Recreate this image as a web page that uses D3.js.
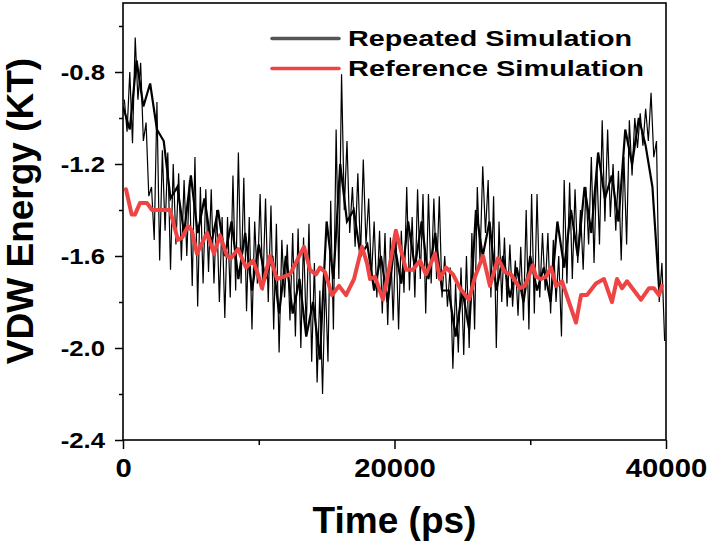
<!DOCTYPE html>
<html><head><meta charset="utf-8">
<script src="https://cdn.jsdelivr.net/npm/d3@7"></script>
<style>body{margin:0;background:#fff} text{font-family:"Liberation Sans",Arial,sans-serif;font-weight:bold;fill:#000}</style>
</head><body>
<svg id="chart" width="708" height="543"></svg>
<script>
// ---- data ----
const binSize = 400; // ps per bin of the repeated simulation envelope
const repHigh = [-0.92,-0.80,-0.65,-0.76,-1.02,-1.30,-0.93,-1.14,-1.15,-1.20,
 -1.24,-1.27,-1.27,-1.17,-1.30,-1.31,-1.31,-1.40,-1.43,-1.43,
 -1.25,-1.15,-1.26,-1.43,-1.45,-1.33,-1.35,-1.38,-1.46,-1.53,
 -1.55,-1.50,-1.48,-1.52,-1.46,-1.63,-1.75,-1.70,-1.36,-1.05,
 -0.81,-1.10,-1.30,-1.24,-1.18,-1.35,-1.45,-1.49,-1.50,-1.52,
 -1.50,-1.49,-1.30,-1.43,-1.31,-1.33,-1.33,-1.35,-1.34,-1.60,
 -1.65,-1.72,-1.65,-1.60,-1.50,-1.30,-1.21,-1.27,-1.34,-1.45,
 -1.52,-1.55,-1.62,-1.56,-1.40,-1.33,-1.33,-1.50,-1.50,-1.53,
 -1.60,-1.27,-1.28,-1.31,-1.40,-1.30,-1.17,-1.20,-1.01,-1.05,
 -1.20,-1.23,-1.17,-1.01,-1.00,-0.98,-0.96,-0.89,-1.10,-1.63];
const repLow = [-1.06,-1.11,-0.92,-1.10,-1.34,-1.53,-1.62,-1.49,-1.66,-1.55,
 -1.62,-1.60,-1.73,-1.82,-1.72,-1.67,-1.72,-1.80,-1.87,-1.78,
 -1.75,-1.72,-1.84,-1.92,-1.72,-1.75,-1.80,-1.92,-2.02,-1.78,
 -1.88,-1.95,-2.00,-1.92,-2.06,-2.15,-2.20,-2.06,-1.92,-1.70,
 -1.40,-1.50,-1.56,-1.60,-1.55,-1.70,-1.78,-1.85,-1.90,-1.88,
 -1.92,-1.76,-1.75,-1.78,-1.70,-1.85,-1.72,-1.70,-1.78,-1.82,
 -2.09,-2.02,-2.03,-2.00,-1.92,-1.62,-1.50,-1.78,-2.00,-1.80,
 -1.82,-1.82,-1.86,-1.88,-1.92,-1.85,-1.78,-1.75,-1.85,-1.80,
 -1.95,-1.72,-1.70,-1.63,-1.66,-1.55,-1.63,-1.55,-1.45,-1.43,
 -1.49,-1.62,-1.55,-1.25,-1.13,-1.12,-1.10,-1.17,-1.80,-1.97];
// dense core of the repeated run, per 1000 ps
const coreBin = 1000;
const coreHigh = [-0.95,-0.75,-0.85,-1.10,-1.30,-1.25,-1.35,-1.40,-1.45,-1.50,
 -1.55,-1.60,-1.60,-1.70,-1.80,-1.45,-1.20,-1.40,-1.55,-1.60,
 -1.55,-1.45,-1.45,-1.50,-1.75,-1.75,-1.40,-1.45,-1.60,-1.65,
 -1.60,-1.65,-1.45,-1.40,-1.30,-1.15,-1.25,-1.05,-1.00,-1.30];
const coreLow = [-1.05,-0.95,-1.05,-1.35,-1.50,-1.50,-1.55,-1.60,-1.70,-1.75,
 -1.70,-1.85,-1.85,-1.95,-2.05,-1.70,-1.45,-1.60,-1.75,-1.80,
 -1.72,-1.65,-1.70,-1.75,-1.95,-1.92,-1.60,-1.75,-1.78,-1.80,
 -1.75,-1.80,-1.65,-1.60,-1.50,-1.35,-1.45,-1.20,-1.12,-1.75];
const refTime = [220,640,880,1250,1770,2140,3460,4050,4350,4790,5080,5450,6190,6700,7150,7660,7950,8470,9060,9580,
 9950,10240,10830,11340,11860,12300,13330,13780,14220,14510,14880,15400,15910,16430,17020,17600,17970,18200,18560,19150,
 19590,20100,20850,21360,21880,22320,22980,23350,23790,24310,24820,25490,25930,26520,27030,27620,28140,28580,29240,29610,
 30200,30420,30790,31160,31530,31900,32340,32850,33370,33740,34180,34840,35430,36020,36390,36760,37130,38160,38750,39110,
 39480,39700];
const refValue = [-1.31,-1.42,-1.42,-1.37,-1.37,-1.40,-1.40,-1.53,-1.52,-1.47,-1.49,-1.59,-1.50,-1.59,-1.51,-1.60,-1.61,-1.57,-1.65,-1.62,
 -1.68,-1.74,-1.60,-1.70,-1.69,-1.68,-1.56,-1.66,-1.68,-1.65,-1.67,-1.77,-1.73,-1.77,-1.70,-1.56,-1.63,-1.70,-1.69,-1.79,
 -1.66,-1.49,-1.66,-1.66,-1.62,-1.68,-1.59,-1.70,-1.65,-1.68,-1.74,-1.79,-1.69,-1.60,-1.73,-1.61,-1.67,-1.68,-1.74,-1.73,
 -1.64,-1.69,-1.70,-1.69,-1.65,-1.73,-1.71,-1.80,-1.89,-1.77,-1.77,-1.72,-1.70,-1.80,-1.70,-1.74,-1.71,-1.79,-1.74,-1.74,
 -1.77,-1.73];
const xMajorTicks = [0, 20000, 40000];
const xMinorTicks = [10000, 30000];
const yMajorTicks = [-2.4, -2.0, -1.6, -1.2, -0.8];
const yMinorTicks = [-2.2, -1.8, -1.4, -1.0, -0.6];
const seriesNames = ["Repeated Simulation", "Reference Simulation"];
const xTitle = "Time (ps)";
const yTitle = "VDW Energy (KT)";

// ---- layout ----
const svg = d3.select("#chart");
const L = 123, R = 666, T = 3, B = 440;
const x = d3.scaleLinear().domain([0, 40000]).range([L, R]);
const y = d3.scaleLinear().domain([-2.4, -0.5]).range([B, T]);
const stretch = 1.17;

svg.append("clipPath").attr("id", "clip").append("rect")
  .attr("x", L).attr("y", T).attr("width", R - L).attr("height", B - T);

const line = d3.line().x(d => x(d[0])).y(d => y(d[1]));

// dense core of the repeated run (high/low alternately)
const corePts = [];
coreHigh.forEach((h, i) => {
  corePts.push([i * coreBin, h]);
  corePts.push([i * coreBin + coreBin / 2, coreLow[i]]);
});
svg.append("path").datum(corePts).attr("d", line)
  .attr("clip-path", "url(#clip)")
  .attr("fill", "none").attr("stroke", "#000").attr("stroke-width", 2.2);

// repeated simulation envelope: high/low of each bin alternately
const repPts = [];
repHigh.forEach((h, i) => {
  repPts.push([i * binSize + binSize * 0.25, h]);
  repPts.push([i * binSize + binSize * 0.75, repLow[i]]);
});
svg.append("path").datum(repPts).attr("d", line)
  .attr("clip-path", "url(#clip)")
  .attr("fill", "none").attr("stroke", "#000").attr("stroke-width", 1.2);

svg.append("path").datum(refTime.map((t, i) => [t, refValue[i]])).attr("d", line)
  .attr("fill", "none").attr("stroke", "#ee4444").attr("stroke-width", 4)
  .attr("stroke-linejoin", "round").attr("stroke-linecap", "round");

// frame
svg.append("rect").attr("x", L).attr("y", T).attr("width", R - L).attr("height", B - T)
  .attr("fill", "none").attr("stroke", "#000").attr("stroke-width", 1.6);

// axes
function styleAxis(g) {
  g.select(".domain").remove();
  g.selectAll("line").attr("stroke", "#000").attr("stroke-width", 1.5);
}
const hyphenFmt = f => d => d3.format(f)(d).replace("\u2212", "-");
const gx = svg.append("g").attr("transform", `translate(0,${B})`)
  .call(d3.axisBottom(x).tickValues(xMajorTicks).tickSize(9).tickPadding(10).tickSizeOuter(0).tickFormat(hyphenFmt("d")));
gx.call(styleAxis);
gx.selectAll("text").attr("font-size", 25);
svg.append("g").attr("transform", `translate(0,${B})`)
  .call(d3.axisBottom(x).tickValues(xMinorTicks).tickSize(5).tickSizeOuter(0).tickFormat(""))
  .call(styleAxis);

const gy = svg.append("g").attr("transform", `translate(${L},0)`)
  .call(d3.axisLeft(y).tickValues(yMajorTicks).tickSize(8).tickPadding(10).tickSizeOuter(0).tickFormat(hyphenFmt(".1f")));
gy.call(styleAxis);
gy.selectAll("text").attr("font-size", 22).attr("dy", "0.36em");
svg.append("g").attr("transform", `translate(${L},0)`)
  .call(d3.axisLeft(y).tickValues(yMinorTicks).tickSize(4).tickSizeOuter(0).tickFormat(""))
  .call(styleAxis);

svg.selectAll(".tick text").attr("font-family", null).attr("fill", "#000")
  .attr("font-weight", "bold")
  .each(function () {
    const len = this.getComputedTextLength();
    d3.select(this).attr("textLength", len * stretch).attr("lengthAdjust", "spacingAndGlyphs");
  });

// titles
svg.append("text").attr("x", (L + R) / 2).attr("y", 533).attr("text-anchor", "middle")
  .attr("font-size", 37).text(xTitle);
svg.append("text").attr("transform", "translate(33,211) rotate(-90)").attr("text-anchor", "middle")
  .attr("font-size", 37).text(yTitle);

// legend
const legColors = ["#555555", "#ee4444"];
const legY = [38.5, 68.5];
const legWidths = [284, 296];
seriesNames.forEach((name, i) => {
  svg.append("line").attr("x1", 272).attr("x2", 339).attr("y1", legY[i]).attr("y2", legY[i])
    .attr("stroke", legColors[i]).attr("stroke-width", 3.5).attr("stroke-linecap", "round");
  svg.append("text").attr("x", 348).attr("y", legY[i] + 7.5).attr("font-size", 22)
    .attr("textLength", legWidths[i]).attr("lengthAdjust", "spacingAndGlyphs").text(name);
});
</script>
</body></html>
